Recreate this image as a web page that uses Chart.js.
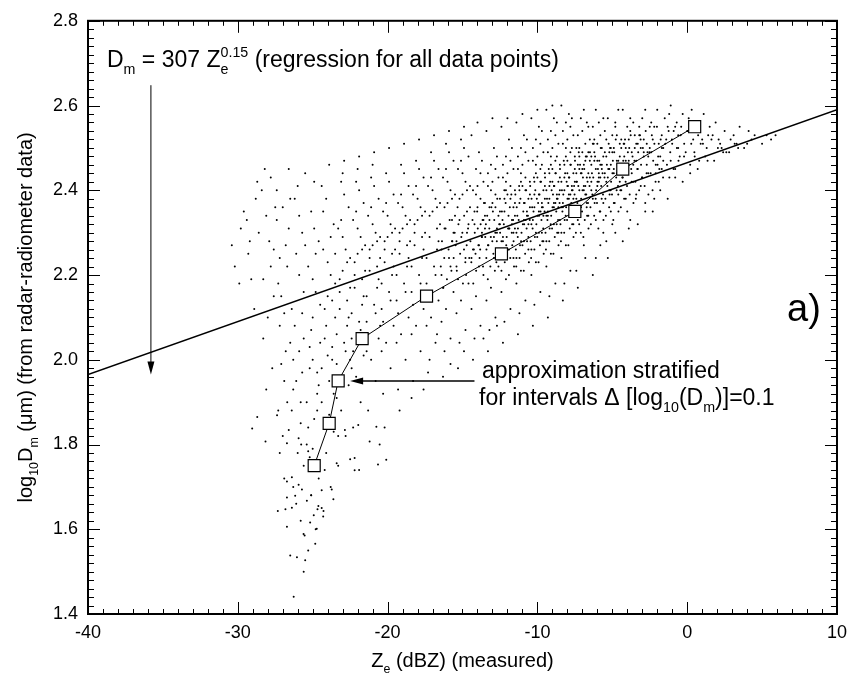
<!DOCTYPE html>
<html>
<head>
<meta charset="utf-8">
<script src="https://cdn.jsdelivr.net/npm/chart.js@4.4.1/dist/chart.umd.min.js"></script>
<style>
  html, body { margin: 0; padding: 0; background: #fff; }
  #wrap { width: 855px; height: 688px; position: relative; }
</style>
</head>
<body>
<div id="wrap"><canvas id="dmChart"></canvas></div>
<script>
const xTicks = [-40, -30, -20, -10, 0, 10];
const yTicks = [1.4, 1.6, 1.8, 2.0, 2.2, 2.4, 2.6, 2.8];

// stratified approximation (open squares)
const stratZe = [-24.9, -23.9, -23.3, -21.7, -17.4, -12.4, -7.5, -4.3, 0.5];
const stratLogDm = [1.75, 1.85, 1.95, 2.05, 2.15, 2.25, 2.35, 2.45, 2.55];

// regression for all data points
const regZe = [-40, 10];
const regLogDm = [1.965, 2.59];

// annotation arrows
const regArrowZe = [-35.8, -35.8];
const regArrowLogDm = [2.648, 1.965];
const stratArrowZe = [-14.2, -22.5];
const stratArrowLogDm = [1.95, 1.95];

// measured points (Ze dBZ, log10 Dm)
const cloud = [
  [-30.2,2.22],[-29.8,2.31],[-30.4,2.27],[-29.6,2.35],[-29.9,2.18],
  [-29.3,2.25],[-28.8,2.38],[-29.1,2.19],[-28.6,2.30],[-29.4,2.33],[-28.9,2.12],[-28.7,2.42],[-29.2,2.28],
  [-28.3,2.05],[-27.8,2.22],[-28.1,2.34],[-27.6,2.15],[-28.4,2.40],[-27.9,2.28],[-27.7,1.98],[-28.2,2.45],
  [-27.5,2.36],[-28.0,2.10],[-27.6,2.26],[-28.3,2.19],[-27.8,2.43],[-28.1,1.93],
  [-27.3,1.88],[-26.8,2.02],[-27.1,2.15],[-26.6,2.31],[-27.4,2.40],[-26.9,1.95],[-26.7,2.22],[-27.2,2.08],
  [-26.5,2.38],[-27.0,1.82],[-26.8,2.27],[-27.3,2.18],[-26.6,2.45],[-27.1,1.99],[-26.9,2.11],[-27.4,2.33],
  [-26.7,1.90],[-27.2,2.24],[-26.5,2.04],[-27.0,2.36],[-26.9,1.72],[-27.2,1.78],
  [-26.3,1.70],[-25.8,1.85],[-26.1,1.95],[-25.6,2.05],[-26.4,2.12],[-25.9,2.20],[-25.7,2.30],[-26.2,2.38],
  [-25.5,2.44],[-26.0,1.78],[-25.8,1.90],[-26.3,2.00],[-25.6,2.16],[-26.1,2.25],[-25.9,2.34],[-26.4,1.88],
  [-25.7,1.97],[-26.2,2.08],[-25.5,2.27],[-26.0,2.41],[-25.8,1.62],[-26.1,1.66],[-25.6,1.75],[-26.3,1.93],
  [-25.9,2.02],[-25.7,2.11],
  [-25.3,1.55],[-24.8,1.60],[-25.1,1.68],[-24.6,1.72],[-25.4,1.80],[-24.9,1.86],[-24.7,1.92],[-25.2,1.98],
  [-24.5,2.04],[-25.0,2.10],[-24.8,2.16],[-25.3,2.22],[-24.6,2.28],[-25.1,2.35],[-24.9,2.42],[-25.4,1.90],
  [-24.7,1.97],[-25.2,2.03],[-24.5,2.13],[-25.0,2.19],[-24.8,2.25],[-25.3,1.84],[-24.6,1.94],[-25.1,2.07],
  [-24.9,2.31],[-25.6,1.50],[-24.4,1.65],[-25.2,1.77],[-24.7,1.88],[-25.0,2.00],
  [-24.3,1.63],[-23.8,1.70],[-24.1,1.78],[-23.6,1.83],[-24.4,1.90],[-23.9,1.95],[-23.7,2.00],[-24.2,2.05],
  [-23.5,2.10],[-24.0,2.15],[-23.8,2.20],[-24.3,2.26],[-23.6,2.32],[-24.1,2.38],[-23.9,2.46],[-24.4,1.98],
  [-23.7,2.03],[-24.2,2.12],[-23.5,2.18],[-24.0,2.23],[-23.8,2.29],[-24.3,2.35],[-23.6,1.92],[-24.1,2.08],
  [-23.9,1.87],[-24.4,2.41],[-23.7,2.14],[-24.2,1.74],[-23.5,2.25],[-24.0,2.01],
  [-23.3,1.75],[-22.8,1.82],[-23.1,1.88],[-22.6,1.94],[-23.4,1.99],[-22.9,2.04],[-22.7,2.08],[-23.2,2.12],
  [-22.5,2.17],[-23.0,2.21],[-22.8,2.26],[-23.3,2.31],[-22.6,2.36],[-23.1,2.42],[-22.9,2.47],[-23.4,2.06],
  [-22.7,2.14],[-23.2,2.19],[-22.5,2.24],[-23.0,2.29],[-22.8,2.02],[-23.3,1.96],[-22.6,2.10],[-23.1,2.33],
  [-22.9,2.39],[-23.4,1.91],[-22.7,2.23],[-23.2,2.16],[-22.5,2.00],[-23.0,2.44],
  [-22.3,1.84],[-21.8,1.90],[-22.1,1.96],[-21.6,2.01],[-22.4,2.05],[-21.9,2.09],[-21.7,2.13],[-22.2,2.17],
  [-21.5,2.21],[-22.0,2.25],[-21.8,2.29],[-22.3,2.33],[-21.6,2.37],[-22.1,2.42],[-21.9,2.48],[-22.4,2.11],
  [-21.7,2.19],[-22.2,2.23],[-21.5,2.27],[-22.0,2.31],[-21.8,2.07],[-22.3,2.02],[-21.6,2.15],[-22.1,2.35],
  [-21.9,2.40],[-22.4,1.98],[-21.7,2.26],[-22.2,2.20],[-21.5,2.04],[-22.0,2.45],
  [-21.3,1.88],[-20.8,1.95],[-21.1,2.00],[-20.6,2.05],[-21.4,2.09],[-20.9,2.13],[-20.7,2.17],[-21.2,2.21],
  [-20.5,2.24],[-21.0,2.27],[-20.8,2.30],[-21.3,2.34],[-20.6,2.38],[-21.1,2.43],[-20.9,2.49],[-21.4,2.15],
  [-20.7,2.22],[-21.2,2.26],[-20.5,2.29],[-21.0,2.32],[-20.8,2.11],[-21.3,2.06],[-20.6,2.19],[-21.1,2.36],
  [-20.9,2.41],[-21.4,2.02],[-20.7,2.28],[-21.2,2.24],[-20.5,2.08],[-21.0,2.46],
  [-20.3,1.92],[-19.8,1.98],[-20.1,2.04],[-19.6,2.08],[-20.4,2.12],[-19.9,2.16],[-19.7,2.20],[-20.2,2.23],
  [-19.5,2.26],[-20.0,2.29],[-19.8,2.32],[-20.3,2.35],[-19.6,2.39],[-20.1,2.44],[-19.9,2.50],[-20.4,2.18],
  [-19.7,2.25],[-20.2,2.28],[-19.5,2.31],[-20.0,2.34],[-19.8,2.14],[-20.3,2.09],[-19.6,2.22],[-20.1,2.37],
  [-19.9,2.42],[-20.4,2.02],[-19.7,2.30],[-20.2,2.26],
  [-19.3,1.93],[-18.8,2.00],[-19.1,2.06],[-18.6,2.10],[-19.4,2.14],[-18.9,2.18],[-18.7,2.22],[-19.2,2.25],
  [-18.5,2.28],[-19.0,2.31],[-18.8,2.34],[-19.3,2.37],[-18.6,2.41],[-19.1,2.46],[-18.9,2.51],[-19.4,2.20],
  [-18.7,2.27],[-19.2,2.30],[-18.5,2.33],[-19.0,2.36],[-18.8,2.16],[-19.3,2.11],[-18.6,2.24],[-19.1,2.39],
  [-18.9,2.44],[-19.4,2.04],[-18.7,2.32],[-19.2,2.28],
  [-18.3,1.95],[-17.8,2.02],[-18.1,2.08],[-17.6,2.12],[-18.4,2.16],[-17.9,2.20],[-17.7,2.24],[-18.2,2.27],
  [-17.5,2.30],[-18.0,2.33],[-17.8,2.36],[-18.3,2.39],[-17.6,2.43],[-18.1,2.47],[-17.9,2.52],[-18.4,2.22],
  [-17.7,2.29],[-18.2,2.32],[-17.5,2.35],[-18.0,2.38],[-17.8,2.18],[-18.3,2.13],[-17.6,2.26],[-18.1,2.41],
  [-17.9,2.45],[-18.4,2.06],[-17.7,2.34],[-18.2,2.30],
  [-17.3,1.97],[-16.8,2.04],[-17.1,2.10],[-16.6,2.14],[-17.4,2.18],[-16.9,2.22],[-16.7,2.26],[-17.2,2.29],
  [-16.5,2.32],[-17.0,2.35],[-16.8,2.38],[-17.3,2.41],[-16.6,2.45],[-17.1,2.49],[-16.9,2.53],[-17.4,2.24],
  [-16.7,2.31],[-17.2,2.34],[-16.5,2.37],[-17.0,2.40],[-16.8,2.20],[-17.3,2.15],[-16.6,2.28],[-17.1,2.43],
  [-16.9,2.47],[-17.4,2.08],[-16.7,2.36],[-17.2,2.00],
  [-16.3,1.96],[-15.8,2.05],[-16.1,2.12],[-15.6,2.16],[-16.4,2.20],[-15.9,2.24],[-15.7,2.28],[-16.2,2.31],
  [-15.5,2.34],[-16.0,2.37],[-15.8,2.40],[-16.3,2.43],[-15.6,2.47],[-16.1,2.51],[-15.9,2.54],[-16.4,2.26],
  [-15.7,2.33],[-16.2,2.36],[-15.5,2.39],[-16.0,2.42],[-15.8,2.22],[-16.3,2.17],[-15.6,2.30],[-16.1,2.45],
  [-15.9,2.49],[-16.4,2.09],[-15.7,2.38],[-16.2,2.02],
  [-15.3,1.98],[-14.8,2.07],[-15.1,2.14],[-14.6,2.18],[-15.4,2.22],[-14.9,2.26],[-14.7,2.30],[-15.2,2.33],
  [-14.5,2.36],[-15.0,2.39],[-14.8,2.42],[-15.3,2.45],[-14.6,2.48],[-15.1,2.52],[-14.9,2.55],[-15.4,2.28],
  [-14.7,2.35],[-15.2,2.38],[-14.5,2.41],[-15.0,2.44],[-14.8,2.24],[-15.3,2.19],[-14.6,2.32],[-15.1,2.47],
  [-14.9,2.50],[-15.4,2.11],[-14.7,2.40],[-15.2,2.04],
  [-14.3,2.00],[-13.8,2.08],[-14.1,2.15],[-13.6,2.20],[-14.4,2.24],[-13.9,2.27],[-13.7,2.30],[-14.2,2.32],
  [-13.5,2.34],[-14.0,2.36],[-13.8,2.38],[-14.3,2.40],[-13.6,2.42],[-14.1,2.45],[-13.9,2.49],[-14.4,2.53],
  [-13.7,2.29],[-14.2,2.35],[-13.5,2.37],[-14.0,2.41],[-13.8,2.44],[-14.3,2.26],[-13.6,2.33],[-14.1,2.39],
  [-13.9,2.22],[-14.4,2.12],[-13.7,2.47],[-14.2,2.05],[-13.5,2.31],[-14.0,2.56],
  [-13.3,2.02],[-12.8,2.10],[-13.1,2.17],[-12.6,2.22],[-13.4,2.26],[-12.9,2.29],[-12.7,2.31],[-13.2,2.33],
  [-12.5,2.35],[-13.0,2.37],[-12.8,2.39],[-13.3,2.41],[-12.6,2.43],[-13.1,2.46],[-12.9,2.50],[-13.4,2.54],
  [-12.7,2.30],[-13.2,2.36],[-12.5,2.38],[-13.0,2.42],[-12.8,2.45],[-13.3,2.27],[-12.6,2.34],[-13.1,2.40],
  [-12.9,2.24],[-13.4,2.14],[-12.7,2.48],[-13.2,2.07],[-12.5,2.32],[-13.0,2.57],[-12.8,2.36],[-13.3,2.44],
  [-12.3,2.04],[-11.8,2.12],[-12.1,2.19],[-11.6,2.24],[-12.4,2.28],[-11.9,2.31],[-11.7,2.33],[-12.2,2.35],
  [-11.5,2.37],[-12.0,2.39],[-11.8,2.41],[-12.3,2.43],[-11.6,2.45],[-12.1,2.48],[-11.9,2.52],[-12.4,2.55],
  [-11.7,2.32],[-12.2,2.38],[-11.5,2.40],[-12.0,2.44],[-11.8,2.47],[-12.3,2.29],[-11.6,2.36],[-12.1,2.42],
  [-11.9,2.26],[-12.4,2.16],[-11.7,2.50],[-12.2,2.09],[-11.5,2.34],[-12.0,2.57],[-11.8,2.38],[-12.3,2.46],
  [-11.6,2.30],[-12.1,2.40],
  [-11.3,2.06],[-10.8,2.14],[-11.1,2.21],[-10.6,2.26],[-11.4,2.30],[-10.9,2.33],[-10.7,2.35],[-11.2,2.37],
  [-10.5,2.39],[-11.0,2.41],[-10.8,2.43],[-11.3,2.45],[-10.6,2.47],[-11.1,2.50],[-10.9,2.53],[-11.4,2.56],
  [-10.7,2.34],[-11.2,2.40],[-10.5,2.42],[-11.0,2.46],[-10.8,2.49],[-11.3,2.31],[-10.6,2.38],[-11.1,2.44],
  [-10.9,2.28],[-11.4,2.18],[-10.7,2.52],[-11.2,2.11],[-10.5,2.36],[-11.0,2.58],[-10.8,2.40],[-11.3,2.48],
  [-10.6,2.32],[-11.1,2.42],[-10.9,2.37],[-11.4,2.24],
  [-10.3,2.08],[-9.8,2.16],[-10.1,2.23],[-9.6,2.28],[-10.4,2.32],[-9.9,2.35],[-9.7,2.37],[-10.2,2.39],
  [-9.5,2.41],[-10.0,2.43],[-9.8,2.45],[-10.3,2.47],[-9.6,2.49],[-10.1,2.52],[-9.9,2.55],[-10.4,2.57],
  [-9.7,2.36],[-10.2,2.42],[-9.5,2.44],[-10.0,2.48],[-9.8,2.51],[-10.3,2.33],[-9.6,2.40],[-10.1,2.46],
  [-9.9,2.30],[-10.4,2.20],[-9.7,2.54],[-10.2,2.13],[-9.5,2.38],[-10.0,2.59],[-9.8,2.42],[-10.3,2.50],
  [-9.6,2.34],[-10.1,2.44],[-9.9,2.39],[-10.4,2.26],[-9.7,2.46],[-10.2,2.36],
  [-9.3,2.10],[-8.8,2.18],[-9.1,2.25],[-8.6,2.30],[-9.4,2.34],[-8.9,2.37],[-8.7,2.39],[-9.2,2.41],
  [-8.5,2.43],[-9.0,2.45],[-8.8,2.47],[-9.3,2.49],[-8.6,2.51],[-9.1,2.54],[-8.9,2.57],[-9.4,2.59],
  [-8.7,2.38],[-9.2,2.44],[-8.5,2.46],[-9.0,2.50],[-8.8,2.53],[-9.3,2.35],[-8.6,2.42],[-9.1,2.48],
  [-8.9,2.32],[-9.4,2.22],[-8.7,2.56],[-9.2,2.15],[-8.5,2.40],[-9.0,2.60],[-8.8,2.44],[-9.3,2.52],
  [-8.6,2.36],[-9.1,2.46],[-8.9,2.41],[-9.4,2.28],[-8.7,2.48],[-9.2,2.38],[-8.5,2.33],[-9.0,2.42],
  [-8.3,2.14],[-7.8,2.21],[-8.1,2.27],[-7.6,2.32],[-8.4,2.36],[-7.9,2.39],[-7.7,2.41],[-8.2,2.43],
  [-7.5,2.45],[-8.0,2.47],[-7.8,2.49],[-8.3,2.51],[-7.6,2.53],[-8.1,2.56],[-7.9,2.58],[-8.4,2.60],
  [-7.7,2.40],[-8.2,2.46],[-7.5,2.48],[-8.0,2.52],[-7.8,2.55],[-8.3,2.37],[-7.6,2.44],[-8.1,2.50],
  [-7.9,2.34],[-8.4,2.24],[-7.7,2.57],[-8.2,2.18],[-7.5,2.42],[-8.0,2.44],[-7.8,2.46],[-8.3,2.54],
  [-7.6,2.38],[-8.1,2.48],[-7.9,2.43],[-8.4,2.30],[-7.7,2.50],[-8.2,2.40],[-7.5,2.35],[-8.0,2.41],
  [-7.3,2.17],[-6.8,2.24],[-7.1,2.30],[-6.6,2.34],[-7.4,2.38],[-6.9,2.41],[-6.7,2.43],[-7.2,2.45],
  [-6.5,2.47],[-7.0,2.49],[-6.8,2.51],[-7.3,2.53],[-6.6,2.55],[-7.1,2.57],[-6.9,2.59],[-7.4,2.42],
  [-6.7,2.48],[-7.2,2.50],[-6.5,2.52],[-7.0,2.54],[-6.8,2.39],[-7.3,2.46],[-6.6,2.44],[-7.1,2.36],
  [-6.9,2.27],[-7.4,2.21],[-6.7,2.56],[-7.2,2.40],[-6.5,2.43],[-7.0,2.45],[-6.8,2.47],[-7.3,2.33],
  [-6.6,2.49],[-7.1,2.44],[-6.9,2.46],[-7.4,2.50],[-6.7,2.37],[-7.2,2.48],
  [-6.3,2.20],[-5.8,2.27],[-6.1,2.33],[-5.6,2.37],[-6.4,2.40],[-5.9,2.43],[-5.7,2.45],[-6.2,2.47],
  [-5.5,2.49],[-6.0,2.51],[-5.8,2.53],[-6.3,2.55],[-5.6,2.57],[-6.1,2.59],[-5.9,2.44],[-6.4,2.48],
  [-5.7,2.50],[-6.2,2.52],[-5.5,2.54],[-6.0,2.41],[-5.8,2.46],[-6.3,2.38],[-5.6,2.30],[-6.1,2.24],
  [-5.9,2.56],[-6.4,2.42],[-5.7,2.46],[-6.2,2.49],[-5.5,2.44],[-6.0,2.47],[-5.8,2.35],[-6.3,2.51],
  [-5.6,2.48],[-6.1,2.45],
  [-5.3,2.24],[-4.8,2.30],[-5.1,2.35],[-4.6,2.39],[-5.4,2.42],[-4.9,2.45],[-4.7,2.47],[-5.2,2.49],
  [-4.5,2.51],[-5.0,2.53],[-4.8,2.55],[-5.3,2.57],[-4.6,2.59],[-5.1,2.46],[-4.9,2.50],[-5.4,2.52],
  [-4.7,2.44],[-5.2,2.40],[-4.5,2.48],[-5.0,2.32],[-4.8,2.56],[-5.3,2.43],[-4.6,2.47],[-5.1,2.50],
  [-4.9,2.37],[-5.4,2.28],[-4.7,2.53],[-5.2,2.45],[-4.5,2.42],[-5.0,2.49],
  [-4.3,2.28],[-3.8,2.33],[-4.1,2.38],[-3.6,2.42],[-4.4,2.45],[-3.9,2.47],[-3.7,2.49],[-4.2,2.51],
  [-3.5,2.53],[-4.0,2.55],[-3.8,2.57],[-4.3,2.59],[-3.6,2.46],[-4.1,2.50],[-3.9,2.52],[-4.4,2.40],
  [-3.7,2.44],[-4.2,2.48],[-3.5,2.50],[-4.0,2.35],[-3.8,2.54],[-4.3,2.43],[-3.6,2.56],[-4.1,2.47],
  [-3.9,2.31],[-4.4,2.52],
  [-3.3,2.32],[-2.8,2.37],[-3.1,2.41],[-2.6,2.44],[-3.4,2.47],[-2.9,2.49],[-2.7,2.51],[-3.2,2.53],
  [-2.5,2.55],[-3.0,2.57],[-2.8,2.59],[-3.3,2.45],[-2.6,2.48],[-3.1,2.50],[-2.9,2.52],[-3.4,2.39],
  [-2.7,2.46],[-3.2,2.55],[-2.5,2.50],[-3.0,2.43],[-2.8,2.35],[-3.3,2.51],
  [-2.3,2.35],[-1.8,2.40],[-2.1,2.44],[-1.6,2.47],[-2.4,2.49],[-1.9,2.51],[-1.7,2.53],[-2.2,2.55],
  [-1.5,2.57],[-2.0,2.59],[-1.8,2.48],[-2.3,2.52],[-1.6,2.50],[-2.1,2.46],[-1.9,2.42],[-2.4,2.56],
  [-1.7,2.45],[-2.2,2.38],
  [-1.3,2.38],[-0.8,2.43],[-1.1,2.47],[-0.6,2.50],[-1.4,2.52],[-0.9,2.54],[-0.7,2.56],[-1.2,2.58],
  [-0.5,2.48],[-1.0,2.51],[-0.8,2.45],[-1.3,2.55],[-0.6,2.53],[-1.1,2.60],
  [-0.3,2.42],[0.2,2.46],[-0.1,2.49],[0.4,2.52],[-0.4,2.55],[0.1,2.57],[0.3,2.59],[-0.2,2.51],
  [0.5,2.48],[0.0,2.54],[0.2,2.44],[-0.3,2.58],
  [0.7,2.45],[1.2,2.48],[0.9,2.51],[1.4,2.53],[0.6,2.56],[1.1,2.58],[1.3,2.50],[0.8,2.47],[1.5,2.55],[1.0,2.52],
  [1.8,2.47],[2.3,2.50],[2.1,2.52],[2.5,2.54],[1.9,2.56],[2.4,2.49],[1.7,2.53],[2.2,2.51],
  [2.8,2.49],[3.3,2.51],[3.1,2.53],[3.5,2.55],[2.9,2.52],[3.4,2.50],
  [3.8,2.50],[4.3,2.52],[4.1,2.54],[4.5,2.53],[4.0,2.51],
  [5.0,2.51],[5.3,2.53],[5.6,2.52],[5.9,2.53],
  // lower tail
  [-26.27,1.441],[-26.72,1.606],[-25.61,1.589],[-24.83,1.566],[-26.05,1.534],[-25.50,1.527],[-25.17,1.616],
  [-24.73,1.601],[-26.82,1.647],[-26.39,1.651],[-25.39,1.667],[-24.62,1.655],[-24.28,1.643],[-27.33,1.643],
  [-26.72,1.675],[-26.17,1.679],[-25.72,1.694],[-24.40,1.692],[-23.73,1.694],[-23.62,1.671],[-26.72,1.713],
  [-26.39,1.723],[-25.94,1.705],[-25.10,1.680],[-24.68,1.647],[-24.93,1.633],[-26.50,1.538],[-25.54,1.585],
  // sparse points below the band
  [-28.7,1.865],[-29.04,1.838],[-28.15,1.807],[-27.38,1.869],[-26.6,1.834],[-25.94,1.815],[-26.72,1.803],
  [-25.77,1.80],[-25.3,1.784],[-25.0,1.79],[-23.3,1.82],[-22.85,1.834],[-21.96,1.846],[-20.75,1.842],
  [-20.53,1.80],[-21.2,1.807],[-20.2,1.84],[-22.2,1.768],[-22.5,1.765],[-23.4,1.756],[-20.64,1.753],
  [-20.09,1.764],[-22.2,1.739],[-21.9,1.74],[-19.2,1.88],[-18.4,1.91],[-17.6,1.93],[-16.7,2.06],
  [-15.8,1.99],[-14.9,2.02],[-13.6,2.05],[-12.7,2.08]
];

// the dense band along the regression line
const cloudBand = [
  [-16.45,2.22],[-16.37,2.28],[-16.22,2.24],[-16.13,2.31],[-16.04,2.19],[-15.93,2.26],[-15.86,2.33],[-15.74,2.21],
  [-15.68,2.28],[-15.59,2.24],[-15.52,2.30],[-16.28,2.17],
  [-15.46,2.27],[-15.38,2.21],[-15.27,2.32],[-15.16,2.25],[-15.08,2.29],[-14.97,2.18],[-14.89,2.34],[-14.81,2.23],
  [-14.72,2.27],[-14.63,2.31],[-14.55,2.24],[-15.33,2.36],[-15.01,2.30],[-14.76,2.20],
  [-14.47,2.28],[-14.41,2.23],[-14.33,2.33],[-14.24,2.26],[-14.18,2.30],[-14.09,2.21],[-14.02,2.35],[-13.94,2.27],
  [-13.86,2.24],[-13.79,2.32],[-13.71,2.29],[-13.63,2.22],[-13.57,2.37],[-14.28,2.18],[-13.98,2.31],[-13.82,2.26],
  [-13.66,2.33],[-14.13,2.25],
  [-13.48,2.29],[-13.41,2.24],[-13.35,2.34],[-13.27,2.27],[-13.21,2.31],[-13.14,2.22],[-13.07,2.36],[-13.01,2.28],
  [-12.94,2.25],[-12.88,2.33],[-12.81,2.30],[-12.74,2.23],[-12.68,2.38],[-12.61,2.26],[-12.55,2.32],[-13.31,2.19],
  [-13.11,2.29],[-12.97,2.35],[-12.84,2.21],[-12.71,2.28],[-12.58,2.24],[-13.44,2.32],
  [-12.49,2.30],[-12.43,2.25],[-12.37,2.35],[-12.30,2.28],[-12.24,2.32],[-12.18,2.23],[-12.12,2.37],[-12.05,2.29],
  [-11.99,2.26],[-11.93,2.34],[-11.87,2.31],[-11.81,2.24],[-11.74,2.39],[-11.68,2.27],[-11.62,2.33],[-11.56,2.22],
  [-12.40,2.21],[-12.21,2.40],[-12.08,2.27],[-11.96,2.31],[-11.84,2.36],[-11.71,2.30],[-11.59,2.28],[-12.33,2.33],
  [-12.15,2.26],[-11.90,2.20],
  [-11.50,2.31],[-11.44,2.26],[-11.38,2.36],[-11.31,2.29],[-11.25,2.33],[-11.19,2.24],[-11.13,2.38],[-11.06,2.30],
  [-11.00,2.27],[-10.94,2.35],[-10.88,2.32],[-10.82,2.25],[-10.75,2.40],[-10.69,2.28],[-10.63,2.34],[-10.57,2.23],
  [-11.41,2.22],[-11.22,2.41],[-11.09,2.28],[-10.97,2.32],[-10.85,2.37],[-10.72,2.31],[-10.60,2.29],[-11.34,2.34],
  [-11.16,2.27],[-10.91,2.21],[-10.78,2.33],[-11.47,2.39],
  [-10.51,2.33],[-10.45,2.28],[-10.39,2.38],[-10.32,2.31],[-10.26,2.35],[-10.20,2.26],[-10.14,2.40],[-10.07,2.32],
  [-10.01,2.29],[-9.95,2.37],[-9.89,2.34],[-9.83,2.27],[-9.76,2.42],[-9.70,2.30],[-9.64,2.36],[-9.58,2.25],
  [-10.42,2.24],[-10.23,2.43],[-10.10,2.30],[-9.98,2.34],[-9.86,2.39],[-9.73,2.33],[-9.61,2.31],[-10.35,2.36],
  [-10.17,2.29],[-9.92,2.23],[-9.79,2.35],[-10.48,2.41],[-10.04,2.38],[-9.67,2.28],
  [-9.52,2.35],[-9.46,2.30],[-9.40,2.40],[-9.33,2.33],[-9.27,2.37],[-9.21,2.28],[-9.15,2.42],[-9.08,2.34],
  [-9.02,2.31],[-8.96,2.39],[-8.90,2.36],[-8.84,2.29],[-8.77,2.44],[-8.71,2.32],[-8.65,2.38],[-8.59,2.27],
  [-9.43,2.26],[-9.24,2.45],[-9.11,2.32],[-8.99,2.36],[-8.87,2.41],[-8.74,2.35],[-8.62,2.33],[-9.36,2.38],
  [-9.18,2.31],[-8.93,2.25],[-8.80,2.37],[-9.49,2.43],[-9.05,2.40],[-8.68,2.30],[-9.30,2.34],[-8.55,2.39],
  [-8.52,2.37],[-8.46,2.32],[-8.40,2.42],[-8.33,2.35],[-8.27,2.39],[-8.21,2.30],[-8.15,2.44],[-8.08,2.36],
  [-8.02,2.33],[-7.96,2.41],[-7.90,2.38],[-7.84,2.31],[-7.77,2.46],[-7.71,2.34],[-7.65,2.40],[-7.59,2.29],
  [-8.43,2.28],[-8.24,2.47],[-8.11,2.34],[-7.99,2.38],[-7.87,2.43],[-7.74,2.37],[-7.62,2.35],[-8.36,2.40],
  [-8.18,2.33],[-7.93,2.27],[-7.80,2.39],[-8.49,2.45],[-8.05,2.42],[-7.68,2.32],[-8.30,2.36],[-7.55,2.41],
  [-7.52,2.39],[-7.46,2.34],[-7.40,2.44],[-7.33,2.37],[-7.27,2.41],[-7.21,2.32],[-7.15,2.46],[-7.08,2.38],
  [-7.02,2.35],[-6.96,2.43],[-6.90,2.40],[-6.84,2.33],[-6.77,2.48],[-6.71,2.36],[-6.65,2.42],[-6.59,2.31],
  [-7.43,2.30],[-7.24,2.49],[-7.11,2.36],[-6.99,2.40],[-6.87,2.45],[-6.74,2.39],[-6.62,2.37],[-7.36,2.42],
  [-7.18,2.35],[-6.93,2.29],[-6.80,2.41],[-7.49,2.47],[-7.05,2.44],[-6.68,2.34],
  [-6.52,2.41],[-6.46,2.36],[-6.40,2.46],[-6.33,2.39],[-6.27,2.43],[-6.21,2.34],[-6.15,2.48],[-6.08,2.40],
  [-6.02,2.37],[-5.96,2.45],[-5.90,2.42],[-5.84,2.35],[-5.77,2.50],[-5.71,2.38],[-5.65,2.44],[-5.59,2.33],
  [-6.43,2.32],[-6.24,2.51],[-6.11,2.38],[-5.99,2.42],[-5.87,2.47],[-5.74,2.41],[-5.62,2.39],[-6.36,2.44],
  [-6.18,2.37],[-5.93,2.31],[-5.80,2.43],[-6.49,2.49],
  [-5.52,2.43],[-5.46,2.38],[-5.40,2.48],[-5.33,2.41],[-5.27,2.45],[-5.21,2.36],[-5.15,2.50],[-5.08,2.42],
  [-5.02,2.39],[-4.96,2.47],[-4.90,2.44],[-4.84,2.37],[-4.77,2.52],[-4.71,2.40],[-4.65,2.46],[-4.59,2.35],
  [-5.43,2.34],[-5.24,2.51],[-5.11,2.40],[-4.99,2.44],[-4.87,2.49],[-4.74,2.43],[-4.62,2.41],[-5.36,2.46],
  [-5.18,2.39],[-4.93,2.33],
  [-4.52,2.45],[-4.46,2.40],[-4.40,2.50],[-4.33,2.43],[-4.27,2.47],[-4.21,2.38],[-4.15,2.52],[-4.08,2.44],
  [-4.02,2.41],[-3.96,2.49],[-3.90,2.46],[-3.84,2.39],[-3.77,2.53],[-3.71,2.42],[-3.65,2.48],[-3.59,2.37],
  [-4.43,2.36],[-4.24,2.51],[-4.11,2.42],[-3.99,2.46],[-3.87,2.50],[-3.74,2.45],
  [-3.52,2.47],[-3.46,2.42],[-3.40,2.51],[-3.33,2.45],[-3.27,2.49],[-3.21,2.40],[-3.15,2.53],[-3.08,2.46],
  [-3.02,2.43],[-2.96,2.50],[-2.90,2.48],[-2.84,2.41],[-2.77,2.54],[-2.71,2.44],[-2.65,2.49],[-2.59,2.39],
  [-3.43,2.38],[-3.11,2.52],
  [-2.52,2.49],[-2.44,2.44],[-2.36,2.53],[-2.27,2.47],[-2.19,2.51],[-2.11,2.42],[-2.02,2.55],[-1.94,2.48],
  [-1.86,2.45],[-1.77,2.52],[-1.69,2.50],[-1.61,2.43],[-2.31,2.40],[-1.98,2.46],
  [-1.46,2.51],[-1.35,2.46],[-1.24,2.54],[-1.13,2.49],[-1.02,2.52],[-0.91,2.45],[-0.80,2.55],[-0.69,2.50],
  [-0.58,2.47],[-1.19,2.43],
  [-0.44,2.53],[-0.21,2.48],[0.05,2.54],[0.27,2.51],[0.48,2.49],[0.73,2.53],[1.05,2.51],[1.36,2.47],
  [1.62,2.52],[2.05,2.50],[2.61,2.49],[3.17,2.51]
];

const fontFamily = '"Liberation Sans", Arial, Helvetica, sans-serif';
const font = size => size + 'px ' + fontFamily;

// text with sub/superscripts: [text] | [text, 'sub'] | [text, 'sub', sup]
function richText(ctx, x, y, parts, size, draw) {
  let cx = x;
  for (const [t, kind, sup] of parts) {
    if (!kind) {
      ctx.font = font(size);
      if (draw) ctx.fillText(t, cx, y);
      cx += ctx.measureText(t).width;
    } else {
      const s = size * 0.62;
      ctx.font = font(s);
      let w = ctx.measureText(t).width;
      if (draw) ctx.fillText(t, cx, y + size * 0.3);
      if (sup) {
        if (draw) ctx.fillText(sup, cx, y - size * 0.42);
        w = Math.max(w, ctx.measureText(sup).width);
      }
      cx += w;
    }
  }
  return cx - x;
}

function arrow(ctx, x1, y1, x2, y2) {
  const ang = Math.atan2(y2 - y1, x2 - x1);
  const L = 13, W = 3.5;
  ctx.beginPath();
  ctx.moveTo(x1, y1);
  ctx.lineTo(x2 - Math.cos(ang) * L * 0.8, y2 - Math.sin(ang) * L * 0.8);
  ctx.stroke();
  ctx.beginPath();
  ctx.moveTo(x2, y2);
  ctx.lineTo(x2 - Math.cos(ang) * L - Math.sin(ang) * W, y2 - Math.sin(ang) * L + Math.cos(ang) * W);
  ctx.lineTo(x2 - Math.cos(ang) * L + Math.sin(ang) * W, y2 - Math.sin(ang) * L - Math.cos(ang) * W);
  ctx.closePath();
  ctx.fill();
}

const framePlugin = {
  id: 'frame',
  afterDraw(chart) {
    const { ctx, chartArea: a, scales: { x, y } } = chart;
    ctx.save();
    ctx.strokeStyle = '#000';
    ctx.fillStyle = '#000';

    // inward ticks on all four sides
    ctx.lineWidth = 1;
    ctx.beginPath();
    for (let v = xTicks[0]; v <= xTicks[xTicks.length - 1]; v++) {
      const px = Math.round(x.getPixelForValue(v)) + 0.5;
      const len = v % 10 === 0 ? 12 : 5;
      ctx.moveTo(px, a.bottom); ctx.lineTo(px, a.bottom - len);
      ctx.moveTo(px, a.top); ctx.lineTo(px, a.top + len);
    }
    for (let i = 0; i <= 70; i++) {
      const py = Math.round(y.getPixelForValue(1.4 + i * 0.02)) + 0.5;
      const len = i % 10 === 0 ? 12 : 6;
      ctx.moveTo(a.left, py); ctx.lineTo(a.left + len, py);
      ctx.moveTo(a.right, py); ctx.lineTo(a.right - len, py);
    }
    ctx.stroke();

    ctx.lineWidth = 2;
    ctx.strokeRect(a.left, a.top, a.right - a.left, a.bottom - a.top);

    // arrows
    ctx.lineWidth = 1;
    arrow(ctx, x.getPixelForValue(regArrowZe[0]), y.getPixelForValue(regArrowLogDm[0]),
               x.getPixelForValue(regArrowZe[1]), y.getPixelForValue(regArrowLogDm[1]));
    ctx.lineWidth = 1.5;
    arrow(ctx, x.getPixelForValue(stratArrowZe[0]), y.getPixelForValue(stratArrowLogDm[0]),
               x.getPixelForValue(stratArrowZe[1]), y.getPixelForValue(stratArrowLogDm[1]));

    // annotations
    ctx.textBaseline = 'alphabetic';
    ctx.textAlign = 'left';
    richText(ctx, 107, 67, [['D'], ['m', 'sub'], [' = 307 Z'], ['e', 'sub', '0.15'],
      [' (regression for all data points)']], 23, true);
    richText(ctx, 482, 378, [['approximation stratified']], 23, true);
    richText(ctx, 479, 405, [['for intervals \u0394 [log'], ['10', 'sub'], ['(D'], ['m', 'sub'], [')]=0.1']], 23, true);
    ctx.font = font(38);
    ctx.fillText('a)', 787, 321);

    // axis titles
    const xt = [['Z'], ['e', 'sub'], [' (dBZ) (measured)']];
    const xw = richText(ctx, 0, 0, xt, 20, false);
    richText(ctx, (a.left + a.right) / 2 - xw / 2, 667, xt, 20, true);

    const yt = [['log'], ['10', 'sub'], ['D'], ['m', 'sub'], [' (\u03bcm) (from radar-radiometer data)']];
    const yw = richText(ctx, 0, 0, yt, 20, false);
    ctx.translate(32, (a.top + a.bottom) / 2);
    ctx.rotate(-Math.PI / 2);
    richText(ctx, -yw / 2, 0, yt, 20, true);
    ctx.restore();
  }
};

new Chart(document.getElementById('dmChart'), {
  type: 'scatter',
  data: {
    datasets: [
      {
        type: 'line',
        data: stratZe.map((v, i) => ({ x: v, y: stratLogDm[i] })),
        borderColor: '#000',
        borderWidth: 1,
        pointStyle: 'rect',
        pointRadius: 8.5,
        pointBackgroundColor: '#fff',
        pointBorderColor: '#000',
        pointBorderWidth: 1.2,
        order: 0
      },
      {
        type: 'line',
        data: regZe.map((v, i) => ({ x: v, y: regLogDm[i] })),
        borderColor: '#000',
        borderWidth: 1.5,
        pointRadius: 0,
        order: 1
      },
      {
        data: cloud.concat(cloudBand).map(p => ({ x: p[0], y: p[1] })),
        pointRadius: 1,
        backgroundColor: '#000',
        borderWidth: 0,
        order: 2
      }
    ]
  },
  options: {
    responsive: true,
    maintainAspectRatio: false,
    animation: false,
    events: [],
    layout: { padding: { top: 15, right: 13, left: 0, bottom: 0 } },
    plugins: { legend: { display: false }, tooltip: { enabled: false } },
    scales: {
      x: {
        type: 'linear', min: -40, max: 10,
        afterFit(s) { s.height = 74; },
        afterBuildTicks(s) { s.ticks = xTicks.map(v => ({ value: v })); },
        grid: { display: false, drawTicks: false },
        border: { display: false },
        ticks: { padding: 8, color: '#000', font: { family: fontFamily, size: 18 }, maxRotation: 0, autoSkip: false,
                 callback: v => String(v) }
      },
      y: {
        type: 'linear', min: 1.4, max: 2.8,
        afterFit(s) { s.width = 88; },
        afterBuildTicks(s) { s.ticks = yTicks.map(v => ({ value: v })); },
        grid: { display: false, drawTicks: false },
        border: { display: false },
        ticks: { padding: 10, color: '#000', font: { family: fontFamily, size: 18 }, autoSkip: false,
                 callback: v => Number(v).toFixed(1) }
      }
    }
  },
  plugins: [framePlugin]
});
</script>
</body>
</html>
